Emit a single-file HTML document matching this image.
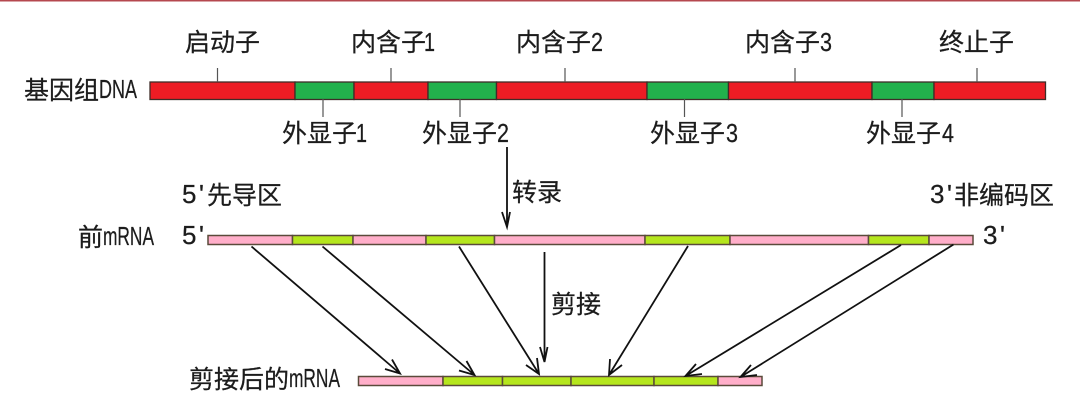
<!DOCTYPE html>
<html><head><meta charset="utf-8">
<style>
html,body{margin:0;padding:0;background:#fff;width:1080px;height:404px;overflow:hidden}
svg{display:block}
text{font-family:"Liberation Sans","Noto Sans CJK SC",sans-serif;font-size:25px;fill:#1c1c1c;stroke:#1c1c1c;stroke-width:.25px}
.l{font-family:"Liberation Sans",sans-serif;font-size:26px}
</style></head><body>
<svg width="1080" height="404" viewBox="0 0 1080 404" xmlns="http://www.w3.org/2000/svg">
<rect x="0" y="0" width="1080" height="1.5" fill="#b5484f"/>
<!-- DNA -->
<g stroke="#3f2c28" stroke-width="1.3">
<rect x="150" y="82" width="145" height="17.5" fill="#ed1c24"/>
<rect x="295" y="82" width="59" height="17.5" fill="#22b14c"/>
<rect x="354" y="82" width="74" height="17.5" fill="#ed1c24"/>
<rect x="428" y="82" width="68.500" height="17.5" fill="#22b14c"/>
<rect x="496.500" y="82" width="150.500" height="17.5" fill="#ed1c24"/>
<rect x="647" y="82" width="81.500" height="17.5" fill="#22b14c"/>
<rect x="728.500" y="82" width="143.500" height="17.5" fill="#ed1c24"/>
<rect x="872" y="82" width="62" height="17.5" fill="#22b14c"/>
<rect x="934" y="82" width="111.500" height="17.5" fill="#ed1c24"/>
</g>
<g stroke="#555" stroke-width="1.2" fill="none">
<path d="M217.500 68V82M391 68V82M565 68V82M795 68V82M977 68V82M323 99V117M460 99V117M684.500 99V117M902 99V117"/>
</g>
<!-- pre mRNA -->
<g stroke="#5a4a3a" stroke-width="1.5">
<rect x="208" y="235.500" width="84.500" height="9" fill="#ffaec9"/>
<rect x="292.500" y="235.500" width="60.500" height="9" fill="#b5e61d"/>
<rect x="353" y="235.500" width="73" height="9" fill="#ffaec9"/>
<rect x="426" y="235.500" width="68.500" height="9" fill="#b5e61d"/>
<rect x="494.500" y="235.500" width="150.500" height="9" fill="#ffaec9"/>
<rect x="645" y="235.500" width="85" height="9" fill="#b5e61d"/>
<rect x="730" y="235.500" width="138.500" height="9" fill="#ffaec9"/>
<rect x="868.500" y="235.500" width="60.500" height="9" fill="#b5e61d"/>
<rect x="929" y="235.500" width="44" height="9" fill="#ffaec9"/>
</g>
<!-- spliced mRNA -->
<g stroke="#5a4a3a" stroke-width="1.5">
<rect x="358.500" y="376.500" width="84.500" height="9" fill="#ffaec9"/>
<rect x="443" y="376.500" width="59.500" height="9" fill="#b5e61d"/>
<rect x="502.500" y="376.500" width="68.500" height="9" fill="#b5e61d"/>
<rect x="571" y="376.500" width="83" height="9" fill="#b5e61d"/>
<rect x="654" y="376.500" width="64" height="9" fill="#b5e61d"/>
<rect x="718" y="376.500" width="44" height="9" fill="#ffaec9"/>
</g>
<!-- arrows -->
<g stroke="#111" stroke-width="1.8" fill="none">
<path d="M507 147V227M502 212L507 227L510 212"/>
<path d="M544.500 252V362M540 347L544.500 362L547.500 347"/>
<path d="M251.500 246.500L400 373.500M385 369L400 373.500L392 359.500"/>
<path d="M322.500 246.500L474.500 375M459 370.500L474.500 375L466.500 361"/>
<path d="M459 246.500L539 374M526 365L539 374L537 358"/>
<path d="M688 246L609 375M610 359L609 375L622 365"/>
<path d="M901 245L685.500 376M696 364L685.500 376L702 374"/>
<path d="M953.500 244.500L740.500 377M751 365L740.500 377L757 375"/>
</g>
<!-- top labels -->
<text x="185" y="51">启动子</text>
<text x="351" y="51">内含子</text><text class="l" x="424" y="51" textLength="11" lengthAdjust="spacingAndGlyphs">1</text>
<text x="516" y="51">内含子</text><text class="l" x="591" y="51" textLength="12" lengthAdjust="spacingAndGlyphs">2</text>
<text x="745" y="51">内含子</text><text class="l" x="820" y="51" textLength="12" lengthAdjust="spacingAndGlyphs">3</text>
<text x="939" y="51">终止子</text>
<text x="24" y="99">基因组</text><text class="l" x="99" y="98" textLength="38" lengthAdjust="spacingAndGlyphs">DNA</text>
<text x="282" y="142">外显子</text><text class="l" x="356" y="142" textLength="11" lengthAdjust="spacingAndGlyphs">1</text>
<text x="422" y="142">外显子</text><text class="l" x="497" y="142" textLength="12" lengthAdjust="spacingAndGlyphs">2</text>
<text x="650" y="142">外显子</text><text class="l" x="726" y="142" textLength="12" lengthAdjust="spacingAndGlyphs">3</text>
<text x="866" y="142">外显子</text><text class="l" x="942" y="142" textLength="12" lengthAdjust="spacingAndGlyphs">4</text>
<!-- middle labels -->
<text class="l" x="182" y="203" textLength="22" lengthAdjust="spacing">5'</text><text x="207" y="204">先导区</text>
<text class="l" x="930" y="203" textLength="22" lengthAdjust="spacing">3'</text><text x="954" y="204">非编码区</text>
<text x="512" y="201">转录</text>
<text x="78" y="246">前</text><text class="l" x="103" y="245" textLength="51" lengthAdjust="spacingAndGlyphs">mRNA</text>
<text class="l" x="182" y="244" textLength="22" lengthAdjust="spacing">5'</text>
<text class="l" x="983" y="244" textLength="22" lengthAdjust="spacing">3'</text>
<text x="551" y="313">剪接</text>
<text x="189" y="388">剪接后的</text><text class="l" x="289" y="387" textLength="51" lengthAdjust="spacingAndGlyphs">mRNA</text>
</svg>
</body></html>
